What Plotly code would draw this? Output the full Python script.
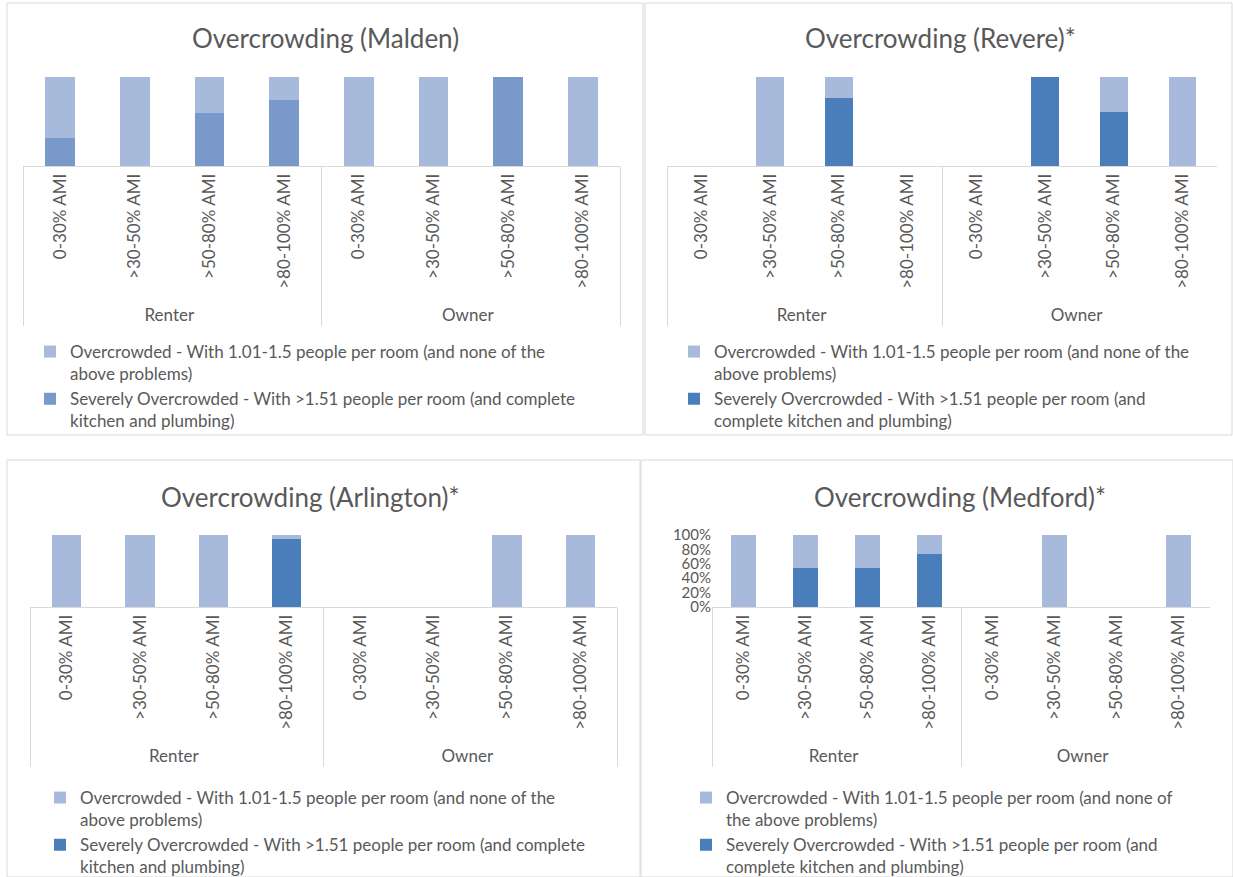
import plotly.graph_objects as go

W, H = 1233, 877

# Categories
tenure = ["Renter", "Owner"]
income = ["0-30% AMI", ">30-50% AMI", ">50-80% AMI", ">80-100% AMI"]

# Share of overcrowded households by tenure and income band (0-1)
malden_severe = [0.31, 0.0, 0.60, 0.74, 0.0, 0.0, 1.0, 0.0]
malden_over = [0.69, 1.0, 0.40, 0.26, 1.0, 1.0, 0.0, 1.0]

revere_severe = [0.0, 0.0, 0.76, 0.0, 0.0, 1.0, 0.61, 0.0]
revere_over = [0.0, 1.0, 0.24, 0.0, 0.0, 0.0, 0.39, 1.0]

arlington_severe = [0.0, 0.0, 0.0, 0.94, 0.0, 0.0, 0.0, 0.0]
arlington_over = [1.0, 1.0, 1.0, 0.06, 0.0, 0.0, 1.0, 1.0]

medford_severe = [0.0, 0.54, 0.54, 0.73, 0.0, 0.0, 0.0, 0.0]
medford_over = [1.0, 0.46, 0.46, 0.27, 0.0, 1.0, 0.0, 1.0]

titles = ["Overcrowding (Malden)", "Overcrowding (Revere)*",
          "Overcrowding (Arlington)*", "Overcrowding (Medford)*"]

over_names = [
    "Overcrowded - With 1.01-1.5 people per room (and none of the<br>above problems)",
    "Overcrowded - With 1.01-1.5 people per room (and none of the<br>above problems)",
    "Overcrowded - With 1.01-1.5 people per room (and none of the<br>above problems)",
    "Overcrowded - With 1.01-1.5 people per room (and none of<br>the above problems)",
]
severe_names = [
    "Severely Overcrowded - With >1.51 people per room (and complete<br>kitchen and plumbing)",
    "Severely Overcrowded - With >1.51 people per room (and<br>complete kitchen and plumbing)",
    "Severely Overcrowded - With >1.51 people per room (and complete<br>kitchen and plumbing)",
    "Severely Overcrowded - With >1.51 people per room (and<br>complete kitchen and plumbing)",
]

FONT = "Lato"
TXT = "#595959"
GRID = "#d9d9d9"
LIGHT = "#a8badb"
DARK_MALDEN = "#7a99cb"
DARK = "#4a7ebb"

x_cats = [[t for t in tenure for _ in income], income * 2]

def px_x(v):
    return v / W

def px_y(v):
    return 1 - v / H

# Panel geometry in pixels: plot area (x0, x1, ytop, ybottom), frame box,
# title centre, legend anchor
panels = [
    dict(sev=malden_severe, over=malden_over, dark=DARK_MALDEN,
         area=(23, 620, 77, 166), box=(7, 3, 643, 435), title=(325, 38),
         legend=(30, 334)),
    dict(sev=revere_severe, over=revere_over, dark=DARK,
         area=(667, 1217, 77, 166), box=(645, 3, 1232, 435), title=(940, 38),
         legend=(674, 334)),
    dict(sev=arlington_severe, over=arlington_over, dark=DARK,
         area=(30, 617, 535, 607), box=(7, 460, 640, 877), title=(310, 497),
         legend=(40, 780)),
    dict(sev=medford_severe, over=medford_over, dark=DARK,
         area=(712, 1210, 535, 607), box=(641, 460, 1233, 877), title=(960, 497),
         legend=(686, 780)),
]

fig = go.Figure()
shapes = []
annotations = []

for i, p in enumerate(panels):
    n = i + 1
    xa = "x" if n == 1 else f"x{n}"
    ya = "y" if n == 1 else f"y{n}"
    lg = "legend" if n == 1 else f"legend{n}"

    fig.add_trace(go.Bar(x=x_cats, y=p["sev"], name=severe_names[i],
                         marker=dict(color=p["dark"], line=dict(width=0)),
                         xaxis=xa, yaxis=ya, legend=lg, hoverinfo="skip"))
    fig.add_trace(go.Bar(x=x_cats, y=p["over"], name=over_names[i],
                         marker=dict(color=LIGHT, line=dict(width=0)),
                         xaxis=xa, yaxis=ya, legend=lg, hoverinfo="skip"))

    x0, x1, yt, yb = p["area"]
    xkey = "xaxis" if n == 1 else f"xaxis{n}"
    ykey = "yaxis" if n == 1 else f"yaxis{n}"
    fig.update_layout(**{
        xkey: dict(domain=[px_x(x0), px_x(x1)], anchor=ya, type="multicategory",
                   showline=True, linecolor=GRID, linewidth=1, ticks="",
                   showdividers=True, dividercolor=GRID, dividerwidth=1,
                   tickangle=-90, showgrid=False, zeroline=False,
                   tickfont=dict(family=FONT, size=17, color=TXT)),
        ykey: dict(domain=[px_y(yb), px_y(yt)], anchor=xa, range=[0, 1],
                   showgrid=False, zeroline=False, showline=False,
                   showticklabels=(n == 4), tickformat=".0%", dtick=0.2,
                   ticks="", tickfont=dict(family=FONT, size=15, color=TXT)),
        lg: dict(x=px_x(p["legend"][0]), y=px_y(p["legend"][1]),
                 xanchor="left", yanchor="top", traceorder="reversed",
                 valign="top", bgcolor="rgba(0,0,0,0)",
                 font=dict(family=FONT, size=17, color=TXT)),
    })

    bx0, by0, bx1, by1 = p["box"]
    shapes.append(dict(type="rect", xref="paper", yref="paper",
                       x0=px_x(bx0), x1=px_x(bx1), y0=px_y(by1), y1=px_y(by0),
                       line=dict(color=GRID, width=1), fillcolor="rgba(0,0,0,0)",
                       layer="below"))
    annotations.append(dict(text=titles[i], xref="paper", yref="paper",
                            x=px_x(p["title"][0]), y=px_y(p["title"][1]),
                            xanchor="center", yanchor="middle", showarrow=False,
                            font=dict(family=FONT, size=26, color=TXT)))

fig.update_layout(
    width=W, height=H, barmode="stack", bargap=0.6,
    margin=dict(l=0, r=0, t=0, b=0, autoexpand=False),
    paper_bgcolor="white", plot_bgcolor="white",
    shapes=shapes, annotations=annotations,
    font=dict(family=FONT, color=TXT),
)

fig.write_html("out.html")
